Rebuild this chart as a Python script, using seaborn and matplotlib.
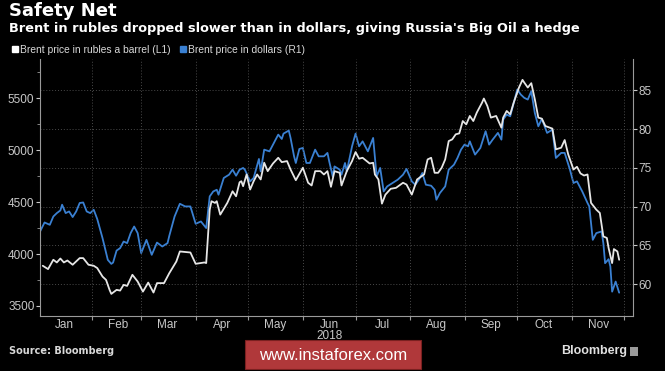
import pandas as pd
import seaborn as sns
import matplotlib.pyplot as plt
import matplotlib.dates as mdates
from matplotlib.lines import Line2D
from matplotlib.patches import Rectangle

# Brent in rubles a barrel (left axis)
rub_dates = ['2018-01-04', '2018-01-07', '2018-01-10', '2018-01-12', '2018-01-14', '2018-01-16',
             '2018-01-18', '2018-01-21', '2018-01-25', '2018-01-27', '2018-01-30', '2018-02-02',
             '2018-02-04', '2018-02-07', '2018-02-09', '2018-02-11', '2018-02-12', '2018-02-15',
             '2018-02-17', '2018-02-19', '2018-02-21', '2018-02-24', '2018-02-27', '2018-03-02',
             '2018-03-05', '2018-03-08', '2018-03-10', '2018-03-14', '2018-03-17', '2018-03-21',
             '2018-03-23', '2018-03-29', '2018-04-01', '2018-04-06', '2018-04-07', '2018-04-09',
             '2018-04-10', '2018-04-12', '2018-04-13', '2018-04-15', '2018-04-19', '2018-04-22',
             '2018-04-24', '2018-04-26', '2018-04-27', '2018-04-28', '2018-04-30', '2018-05-02',
             '2018-05-04', '2018-05-06', '2018-05-08', '2018-05-10', '2018-05-12', '2018-05-15',
             '2018-05-18', '2018-05-20', '2018-05-23', '2018-05-25', '2018-05-28', '2018-06-01',
             '2018-06-04', '2018-06-06', '2018-06-08', '2018-06-11', '2018-06-13', '2018-06-15',
             '2018-06-17', '2018-06-19', '2018-06-22', '2018-06-23', '2018-06-26', '2018-06-29',
             '2018-07-01', '2018-07-03', '2018-07-05', '2018-07-09', '2018-07-11', '2018-07-12',
             '2018-07-14', '2018-07-16', '2018-07-18', '2018-07-21', '2018-07-24', '2018-07-28',
             '2018-07-30', '2018-08-02', '2018-08-05', '2018-08-09', '2018-08-11', '2018-08-13',
             '2018-08-15', '2018-08-17', '2018-08-19', '2018-08-21', '2018-08-23', '2018-08-25',
             '2018-08-27', '2018-08-29', '2018-08-31', '2018-09-02', '2018-09-04', '2018-09-06',
             '2018-09-08', '2018-09-11', '2018-09-12', '2018-09-14', '2018-09-16', '2018-09-19',
             '2018-09-22', '2018-09-23', '2018-09-25', '2018-09-27', '2018-09-29', '2018-10-02',
             '2018-10-04', '2018-10-05', '2018-10-07', '2018-10-09', '2018-10-11', '2018-10-13',
             '2018-10-15', '2018-10-17', '2018-10-21', '2018-10-23', '2018-10-26', '2018-10-28',
             '2018-10-30', '2018-11-02', '2018-11-04', '2018-11-06', '2018-11-08', '2018-11-10',
             '2018-11-12', '2018-11-15', '2018-11-17', '2018-11-19', '2018-11-21', '2018-11-22',
             '2018-11-24', '2018-11-25', '2018-11-27', '2018-11-28']
rub_vals = [3887, 3855, 3945, 3919, 3957, 3919,
            3938, 3897, 3961, 3961, 3897, 3887,
            3865, 3783, 3751, 3655, 3616, 3655,
            3648, 3703, 3693, 3800, 3735, 3638,
            3725, 3629, 3720, 3720, 3816, 3928,
            4025, 4015, 3906, 3919, 3913, 4428,
            4509, 4493, 4509, 4380, 4493, 4605,
            4557, 4692, 4702, 4654, 4767, 4622,
            4702, 4767, 4719, 4880, 4799, 4873,
            4928, 4886, 4896, 4815, 4712, 4832,
            4687, 4661, 4799, 4799, 4767, 4799,
            4648, 4799, 4783, 4661, 4799, 4896,
            4983, 4919, 4928, 4873, 4880, 4767,
            4719, 4486, 4573, 4629, 4638, 4687,
            4670, 4573, 4719, 4767, 4912, 4928,
            4783, 4783, 4832, 4912, 5089, 5105,
            5154, 5163, 5282, 5250, 5331, 5282,
            5364, 5460, 5499, 5427, 5315, 5331,
            5218, 5315, 5379, 5347, 5460, 5605,
            5679, 5653, 5605, 5647, 5492, 5315,
            5305, 5234, 5209, 5009, 5025, 5099,
            4961, 4815, 4841, 4777, 4757, 4767,
            4493, 4428, 4396, 4170, 4155, 4058,
            3913, 4048, 4025, 3945]

# Brent in dollars (right axis)
usd_dates = ['2018-01-02', '2018-01-05', '2018-01-08', '2018-01-10', '2018-01-12', '2018-01-14',
             '2018-01-15', '2018-01-17', '2018-01-19', '2018-01-21', '2018-01-23', '2018-01-25',
             '2018-01-27', '2018-01-29', '2018-01-31', '2018-02-02', '2018-02-04', '2018-02-07',
             '2018-02-10', '2018-02-12', '2018-02-13', '2018-02-15', '2018-02-17', '2018-02-19',
             '2018-02-21', '2018-02-23', '2018-02-25', '2018-02-27', '2018-03-01', '2018-03-04',
             '2018-03-07', '2018-03-10', '2018-03-13', '2018-03-16', '2018-03-17', '2018-03-20',
             '2018-03-23', '2018-03-26', '2018-03-29', '2018-04-01', '2018-04-04', '2018-04-07',
             '2018-04-09', '2018-04-11', '2018-04-13', '2018-04-14', '2018-04-17', '2018-04-20',
             '2018-04-22', '2018-04-24', '2018-04-26', '2018-04-28', '2018-04-29', '2018-05-02',
             '2018-05-04', '2018-05-07', '2018-05-08', '2018-05-10', '2018-05-13', '2018-05-16',
             '2018-05-18', '2018-05-20', '2018-05-21', '2018-05-24', '2018-05-25', '2018-05-27',
             '2018-05-28', '2018-05-30', '2018-06-01', '2018-06-03', '2018-06-05', '2018-06-08',
             '2018-06-10', '2018-06-13', '2018-06-15', '2018-06-16', '2018-06-18', '2018-06-19',
             '2018-06-22', '2018-06-23', '2018-06-25', '2018-06-26', '2018-06-29', '2018-07-01',
             '2018-07-03', '2018-07-05', '2018-07-08', '2018-07-11', '2018-07-13', '2018-07-15',
             '2018-07-17', '2018-07-19', '2018-07-22', '2018-07-25', '2018-07-28', '2018-07-30',
             '2018-08-02', '2018-08-04', '2018-08-06', '2018-08-08', '2018-08-10', '2018-08-13',
             '2018-08-15', '2018-08-16', '2018-08-18', '2018-08-21', '2018-08-23', '2018-08-26',
             '2018-08-28', '2018-08-30', '2018-09-01', '2018-09-03', '2018-09-04', '2018-09-07',
             '2018-09-10', '2018-09-13', '2018-09-15', '2018-09-17', '2018-09-20', '2018-09-22',
             '2018-09-23', '2018-09-25', '2018-09-27', '2018-09-29', '2018-10-01', '2018-10-03',
             '2018-10-05', '2018-10-07', '2018-10-09', '2018-10-11', '2018-10-13', '2018-10-15',
             '2018-10-18', '2018-10-21', '2018-10-23', '2018-10-26', '2018-10-28', '2018-10-31',
             '2018-11-02', '2018-11-04', '2018-11-07', '2018-11-10', '2018-11-11', '2018-11-13',
             '2018-11-15', '2018-11-18', '2018-11-19', '2018-11-20', '2018-11-22', '2018-11-23',
             '2018-11-24', '2018-11-26', '2018-11-28']
usd_vals = [66.59, 67.96, 67.66, 68.73, 69.17, 69.51,
            70.25, 69.17, 69.38, 68.66, 69.38, 70.47,
            70.54, 69.38, 69.17, 69.60, 68.40, 65.94,
            63.14, 62.62, 62.79, 64.34, 64.65, 65.50,
            65.30, 66.59, 67.44, 66.59, 64.01, 65.72,
            63.79, 65.37, 64.86, 65.30, 66.24, 68.73,
            70.37, 70.03, 70.03, 67.79, 68.09, 67.24,
            71.32, 71.96, 72.18, 71.54, 73.70, 74.12,
            74.77, 73.99, 74.77, 74.99, 74.77, 73.26,
            73.70, 76.15, 74.55, 77.35, 77.13, 78.42,
            79.29, 78.73, 79.42, 79.81, 78.86, 76.49,
            75.63, 77.44, 77.57, 75.63, 75.63, 77.35,
            76.49, 76.49, 76.93, 75.84, 73.90, 75.19,
            74.77, 74.12, 75.63, 74.55, 77.78, 79.42,
            77.78, 78.42, 77.13, 78.86, 73.90, 74.99,
            71.96, 72.61, 73.05, 73.48, 74.12, 74.86,
            73.26, 72.83, 73.48, 74.34, 72.83, 72.70,
            72.18, 70.89, 71.76, 72.61, 74.77, 75.41,
            76.28, 77.35, 78.00, 77.78, 78.42, 76.71,
            77.57, 79.72, 78.00, 78.64, 79.51, 78.64,
            81.23, 81.87, 81.65, 83.38, 85.10, 84.46,
            84.03, 83.81, 84.88, 82.09, 80.36, 81.32,
            79.51, 79.94, 76.28, 76.93, 76.93, 74.77,
            73.05, 73.26, 71.96, 70.47, 70.03, 65.72,
            66.59, 66.80, 65.30, 62.71, 63.23, 62.27,
            59.04, 60.34, 58.91]

month_labels = ['Jan', 'Feb', 'Mar', 'Apr', 'May', 'Jun', 'Jul', 'Aug', 'Sep', 'Oct', 'Nov']

rub = pd.DataFrame({'date': pd.to_datetime(rub_dates), 'price': rub_vals})
usd = pd.DataFrame({'date': pd.to_datetime(usd_dates), 'price': usd_vals})

sns.set_style('dark')
plt.rcParams['font.family'] = ['Liberation Sans', 'DejaVu Sans']

white = '#e6e6e6'
blue = '#3a80d2'
grid_c = '#4a4a4a'
tick_c = '#c8c8c8'

fig = plt.figure(figsize=(6.65, 3.71), dpi=100, facecolor='black')
ax = fig.add_axes([40 / 665, 1 - 316 / 371, (632.7 - 40) / 665, (316 - 59.3) / 371])
ax2 = ax.twinx()
ax.set_zorder(ax2.get_zorder() + 1)
ax.patch.set_visible(False)
ax2.patch.set_facecolor('black')

sns.lineplot(data=usd, x='date', y='price', ax=ax2, color=blue, linewidth=1.3)
sns.lineplot(data=rub, x='date', y='price', ax=ax, color=white, linewidth=1.3)

ax.set_xlim(pd.Timestamp('2018-01-02 10:00'), pd.Timestamp('2018-12-05 17:00'))
ax.set_ylim(3403, 5877)
ax2.set_ylim(55.9, 89.0)

ax.set_yticks([3500, 4000, 4500, 5000, 5500])
ax.set_yticks([3750, 4250, 4750, 5250, 5750], minor=True)
ax2.set_yticks([60, 65, 70, 75, 80, 85])

# month boundaries as ticks, month names centred in between
ax.xaxis.set_major_locator(mdates.MonthLocator())
ax.xaxis.set_major_formatter(plt.NullFormatter())
mid_months = pd.date_range('2018-01-01', periods=11, freq='MS') + pd.Timedelta(days=15)
ax.set_xticks(mid_months, minor=True)
ax.set_xticklabels(month_labels, minor=True)

for a in (ax, ax2):
    a.set_xlabel('')
    a.set_ylabel('')
    a.grid(False)
    for s in a.spines.values():
        s.set_visible(False)

ax.spines['left'].set_visible(True)
ax.spines['bottom'].set_visible(True)
ax2.spines['right'].set_visible(True)
for s in (ax.spines['left'], ax.spines['bottom'], ax2.spines['right']):
    s.set_color('#9a9a9a')
    s.set_linewidth(0.8)

ax.tick_params(axis='y', which='major', direction='out', length=3, width=0.8,
               colors=tick_c, labelsize=8.5, pad=1, left=True)
ax.tick_params(axis='y', which='minor', direction='out', length=2, width=0.6, color='#9a9a9a', left=True)
ax2.tick_params(axis='y', direction='out', length=3, width=0.8, colors=tick_c,
                labelsize=8.5, pad=1, right=True)
ax.tick_params(axis='x', which='major', direction='out', length=3, width=0.8,
               color='#9a9a9a', bottom=True)
ax.tick_params(axis='x', which='minor', length=0, colors=tick_c, labelsize=8.5, pad=2)

# dotted grid: vertical at month starts, horizontal at right-axis ticks
ax.grid(axis='x', which='major', color=grid_c, linestyle=(0, (1, 2)), linewidth=0.7)
ax2.grid(axis='y', color=grid_c, linestyle=(0, (1, 2)), linewidth=0.7)

fig.text(330 / 665, 1 - 336 / 371, '2018', color=tick_c, fontsize=8.5, ha='center', va='center')

# titles
fig.text(9 / 665, 1 - 11 / 371, 'Safety Net', color='white', fontsize=13,
         fontweight='bold', family='DejaVu Sans', va='center')
fig.text(9 / 665, 1 - 28.5 / 371,
         "Brent in rubles dropped slower than in dollars, giving Russia's Big Oil a hedge",
         color='white', fontsize=9.3, fontweight='bold', family='DejaVu Sans', va='center')

handles = [Line2D([], [], marker='s', linestyle='', color='white', markersize=4.5),
           Line2D([], [], marker='s', linestyle='', color=blue, markersize=4.5)]
fig.legend(handles, ['Brent price in rubles a barrel (L1)', 'Brent price in dollars (R1)'],
           loc='center left', bbox_to_anchor=(7 / 665, 1 - 50 / 371), ncol=2, frameon=False,
           handlelength=0.6, handletextpad=0.2, columnspacing=0.9, borderpad=0,
           prop={'family': ['Liberation Sans Narrow', 'Liberation Sans'], 'size': 7.4},
           labelcolor='#d8d8d8')

# footer
fig.text(9 / 665, 1 - 351 / 371, 'Source: Bloomberg', color='#d8d8d8', fontsize=7,
         fontweight='bold', family='DejaVu Sans', va='center')
fig.text(627 / 665, 1 - 351 / 371, 'Bloomberg', color='#e0e0e0', fontsize=9,
         fontweight='bold', ha='right', va='center')
fig.patches.append(Rectangle((630 / 665, 1 - 356 / 371), 8 / 665, 9 / 371,
                             transform=fig.transFigure, facecolor='#9a9a9a', edgecolor='none'))

# watermark
fig.patches.append(Rectangle((245 / 665, 1 - 369 / 371), 176 / 665, 29 / 371,
                             transform=fig.transFigure, facecolor='#b0383a',
                             edgecolor='#7a2020', linewidth=0.8))
fig.text(333 / 665, 1 - 355 / 371, 'www.instaforex.com', color='white', fontsize=12,
         ha='center', va='center')

fig.savefig('out.png', dpi=100, facecolor='black')
